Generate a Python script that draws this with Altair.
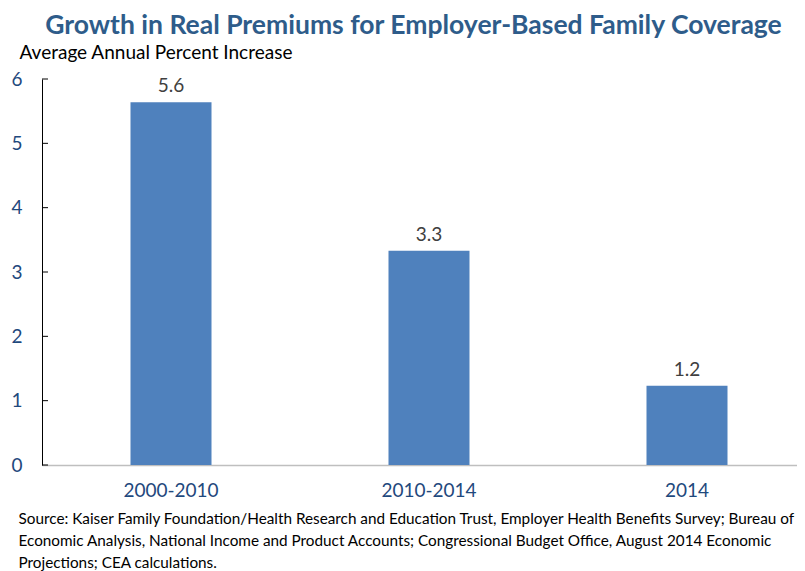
import altair as alt
import pandas as pd

periods = ["2000-2010", "2010-2014", "2014"]
values = [5.64, 3.33, 1.23]
tick_values = [0, 1, 2, 3, 4, 5, 6]

source_lines = [
    "Source: Kaiser Family Foundation/Health Research and Education Trust, Employer Health Benefits Survey; Bureau of",
    "Economic Analysis, National Income and Product Accounts; Congressional Budget Office, August 2014 Economic",
    "Projections; CEA calculations.",
]

df = pd.DataFrame({"period": periods, "value": values})
ticks_df = pd.DataFrame({"t": tick_values})

FONT = "Lato"
BLUE_TXT = "#1F497D"

x_enc = alt.X(
    "period:N",
    sort=periods,
    scale=alt.Scale(paddingInner=0.686, paddingOuter=0.343, range=[0, 774]),
    axis=alt.Axis(
        title=source_lines,
        titleFont=FONT,
        titleFontSize=15.3,
        titleFontWeight="normal",
        titleColor="black",
        titleAlign="left",
        titleAnchor="start",
        titleBaseline="top",
        titleX=-24,
        titleY=46,
        titleLineHeight=22,
        labelFont=FONT,
        labelFontSize=19,
        labelColor=BLUE_TXT,
        labelPadding=16,
        labelAngle=0,
        ticks=False,
        domainColor="#BFBFBF",
        domainWidth=1.5,
    ),
)

y_scale = alt.Scale(domain=[0, 6], nice=False)

bars = alt.Chart(df).mark_bar(color="#4F81BD").encode(
    x=x_enc,
    y=alt.Y(
        "value:Q",
        scale=y_scale,
        axis=alt.Axis(
            values=tick_values,
            format="d",
            title="Average Annual Percent Increase",
            titleFont=FONT,
            titleFontSize=19,
            titleFontWeight="normal",
            titleColor="black",
            titleAngle=0,
            titleAlign="left",
            titleBaseline="alphabetic",
            titleX=-23,
            titleY=-21,
            labelFont=FONT,
            labelFontSize=19,
            labelColor=BLUE_TXT,
            labelPadding=20,
            tickSize=0,
            grid=False,
            domainColor="black",
            domainWidth=1,
        ),
    ),
)

labels = alt.Chart(df).mark_text(
    dy=-16, fontSize=19, font=FONT, color="#404040"
).encode(
    x=alt.X("period:N", sort=periods),
    y=alt.Y("value:Q", scale=y_scale),
    text=alt.Text("value:Q", format=".1f"),
)

inner_ticks = alt.Chart(ticks_df).mark_rule(color="black", strokeWidth=1).encode(
    y=alt.Y("t:Q", scale=y_scale),
    x=alt.value(0),
    x2=alt.value(6),
)

chart = (
    alt.layer(bars, inner_ticks, labels)
    .properties(
        width=755,
        height=386,
        autosize=alt.AutoSizeParams(type="none"),
        padding={"left": 34, "top": 71, "right": 0, "bottom": 110},
        title=alt.TitleParams(
            "Growth in Real Premiums for Employer-Based Family Coverage",
            font=FONT,
            fontSize=26.5,
            fontWeight="bold",
            color="#2E5C8A",
            anchor="middle",
            offset=0,
            dy=-4,
            dx=-6,
        ),
    )
    .configure_view(stroke=None)
)

chart.save("out.html", embed_options={"renderer": "svg", "actions": False})
